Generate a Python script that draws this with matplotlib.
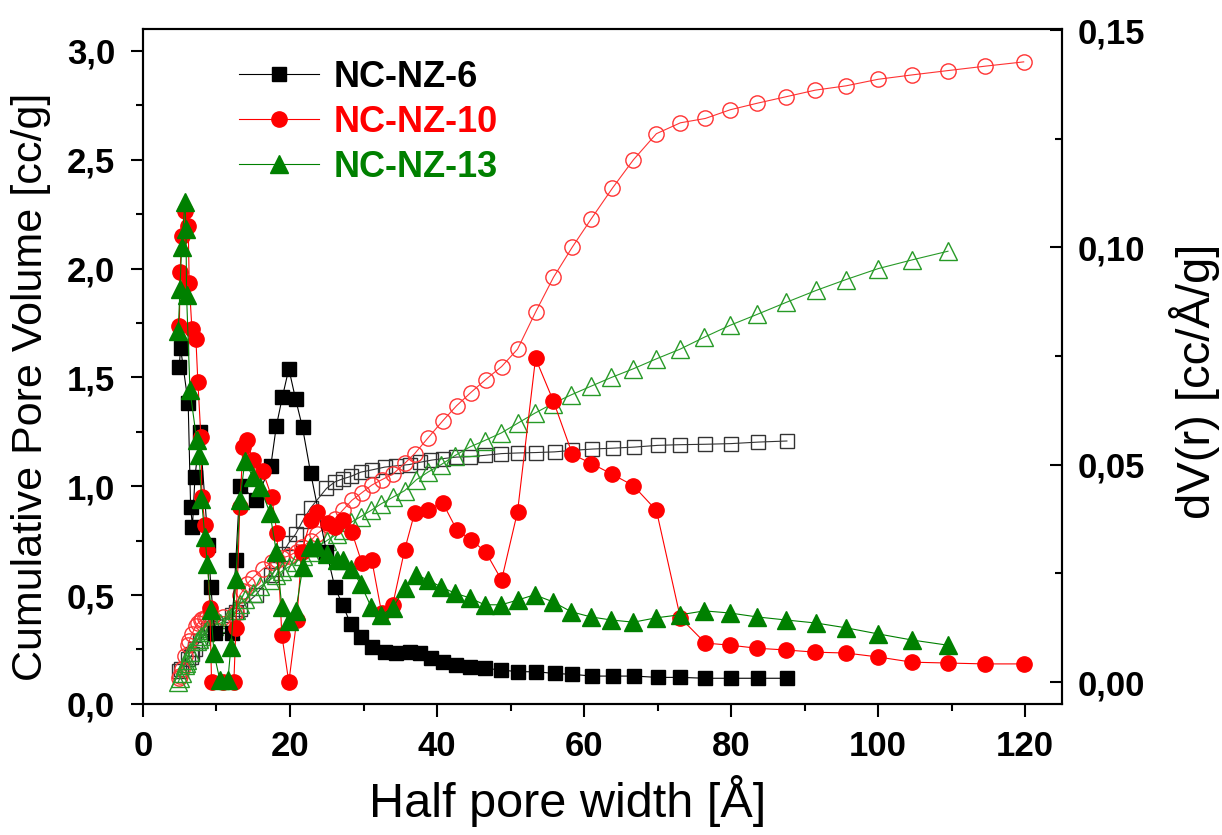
import matplotlib
matplotlib.use('Agg')
import matplotlib.pyplot as plt
from matplotlib.lines import Line2D
from matplotlib.ticker import MultipleLocator, FuncFormatter

plt.rcParams['font.family'] = ['Liberation Sans', 'DejaVu Sans']

# ---- NC-NZ-6 : half pore width [A], dV(r) [cc/A/g], cumulative volume [cc/g]
x6 = [4.93, 5.12, 6.15, 6.48, 6.73, 7.07, 7.74, 8.87, 9.24, 9.78,
      12.05, 12.64, 13.18, 15.35, 17.39, 18.14, 18.95, 19.84, 20.76, 21.70,
      22.80, 24.96, 26.09, 27.17, 28.26, 29.65, 31.11, 32.88, 34.47, 36.28,
      37.64, 39.23, 40.80, 42.62, 44.43, 46.47, 48.74, 50.99, 53.49, 55.98,
      58.42, 61.14, 63.90, 66.85, 70.01, 73.06, 76.49, 79.99, 83.70, 87.59]
dv6 = [0.0726, 0.0768, 0.0642, 0.0404, 0.0358, 0.0471, 0.0575, 0.0316, 0.0218, 0.0112,
       0.0112, 0.0282, 0.0452, 0.0420, 0.0498, 0.0589, 0.0655, 0.0721, 0.0651, 0.0586,
       0.0482, 0.0300, 0.0219, 0.0177, 0.0134, 0.0104, 0.0080, 0.0070, 0.0068, 0.0070,
       0.0066, 0.0055, 0.0047, 0.0039, 0.0035, 0.0032, 0.0028, 0.0024, 0.0024, 0.0020,
       0.0018, 0.0014, 0.0014, 0.0014, 0.0011, 0.0011, 0.0009, 0.0009, 0.0009, 0.0009]
cum6 = [0.15, 0.16, 0.205, 0.216, 0.23, 0.25, 0.29, 0.34, 0.35, 0.37,
        0.41, 0.42, 0.435, 0.50, 0.59, 0.62, 0.69, 0.74, 0.78, 0.84,
        0.90, 0.99, 1.02, 1.034, 1.045, 1.065, 1.075, 1.088, 1.094, 1.10,
        1.11, 1.12, 1.127, 1.134, 1.136, 1.142, 1.15, 1.153, 1.155, 1.158,
        1.165, 1.171, 1.175, 1.18, 1.188, 1.191, 1.193, 1.196, 1.203, 1.208]

# ---- NC-NZ-10
x10 = [4.95, 5.05, 5.26, 5.71, 6.15, 6.29, 6.66, 7.20, 7.47, 7.88,
       8.02, 8.42, 8.74, 9.10, 9.33, 10.87, 12.36, 12.64, 13.18, 13.59,
       14.13, 14.95, 16.30, 17.53, 18.21, 18.89, 19.84, 20.92, 21.60, 22.83,
       23.64, 25.14, 26.09, 27.17, 28.40, 29.76, 31.11, 32.47, 33.97, 35.60,
       36.96, 38.72, 40.76, 42.66, 44.57, 46.60, 48.78, 50.95, 53.40, 55.84,
       58.42, 61.00, 63.86, 66.71, 69.84, 73.10, 76.49, 79.89, 83.56, 87.50,
       91.44, 95.65, 100.0, 104.6, 109.5, 114.5, 119.8]
dv10 = [0.0819, 0.0944, 0.1027, 0.1085, 0.1050, 0.0919, 0.0812, 0.0789, 0.0690, 0.0565,
        0.0427, 0.0362, 0.0305, 0.0171, 0.0, 0.0, 0.0, 0.0125, 0.0404, 0.0540,
        0.0556, 0.0512, 0.0485, 0.0425, 0.0344, 0.0108, 0.0, 0.0143, 0.0300, 0.0374,
        0.0392, 0.0367, 0.0358, 0.0374, 0.0346, 0.0275, 0.0282, 0.0159, 0.0178, 0.0305,
        0.0390, 0.0397, 0.0413, 0.0351, 0.0328, 0.0300, 0.0235, 0.0392, 0.0745, 0.0646,
        0.0524, 0.0503, 0.0478, 0.0452, 0.0395, 0.0148, 0.0090, 0.0085, 0.0078, 0.0074,
        0.0069, 0.0067, 0.0058, 0.0046, 0.0044, 0.0042, 0.0042]
cum10 = [0.12, 0.13, 0.16, 0.22, 0.27, 0.29, 0.32, 0.36, 0.37, 0.385,
         0.39, 0.395, 0.40, 0.40, 0.40, 0.40, 0.41, 0.42, 0.50, 0.52,
         0.55, 0.58, 0.62, 0.65, 0.66, 0.67, 0.68, 0.70, 0.72, 0.75,
         0.78, 0.82, 0.85, 0.89, 0.935, 0.97, 1.005, 1.03, 1.055, 1.105,
         1.15, 1.22, 1.30, 1.37, 1.43, 1.49, 1.55, 1.63, 1.80, 1.96,
         2.10, 2.23, 2.37, 2.50, 2.62, 2.67, 2.69, 2.73, 2.76, 2.79,
         2.82, 2.84, 2.87, 2.89, 2.91, 2.93, 2.95]

# ---- NC-NZ-13
x13 = [4.80, 5.03, 5.26, 5.71, 5.85, 5.93, 6.39, 7.30, 7.65, 7.95,
       8.42, 8.76, 9.24, 9.65, 10.46, 11.55, 11.96, 12.64, 13.18, 13.86,
       14.99, 15.96, 17.26, 18.14, 18.89, 19.84, 20.79, 21.74, 22.69, 23.64,
       25.00, 26.36, 27.20, 28.36, 29.60, 31.07, 32.43, 34.01, 35.60, 37.19,
       38.76, 40.58, 42.39, 44.43, 46.47, 48.74, 50.99, 53.26, 55.75, 58.25,
       60.96, 63.72, 66.71, 69.80, 73.06, 76.36, 79.89, 83.56, 87.50, 91.58,
       95.65, 100.0, 104.6, 109.5]
dv13 = [0.0808, 0.0905, 0.1001, 0.1105, 0.1043, 0.0890, 0.0672, 0.0558, 0.0522, 0.0422,
        0.0335, 0.0272, 0.0166, 0.0067, 0.0005, 0.0005, 0.0081, 0.0238, 0.0418, 0.0508,
        0.0471, 0.0448, 0.0390, 0.0300, 0.0173, 0.0141, 0.0164, 0.0265, 0.0312, 0.0312,
        0.0295, 0.0282, 0.0282, 0.0261, 0.0226, 0.0172, 0.0155, 0.0171, 0.0217, 0.0247,
        0.0235, 0.0219, 0.0205, 0.0194, 0.0178, 0.0178, 0.0189, 0.0201, 0.0185, 0.0162,
        0.0150, 0.0143, 0.0138, 0.0148, 0.0155, 0.0164, 0.0159, 0.0150, 0.0143, 0.0136,
        0.0125, 0.0111, 0.0097, 0.0085]
cum13 = [0.10, 0.12, 0.14, 0.18, 0.19, 0.20, 0.24, 0.29, 0.30, 0.31,
         0.33, 0.34, 0.35, 0.36, 0.37, 0.39, 0.40, 0.43, 0.46, 0.48,
         0.51, 0.54, 0.57, 0.59, 0.61, 0.63, 0.65, 0.68, 0.70, 0.72,
         0.75, 0.78, 0.80, 0.835, 0.86, 0.89, 0.92, 0.95, 0.98, 1.03,
         1.065, 1.10, 1.14, 1.18, 1.21, 1.245, 1.29, 1.335, 1.38, 1.42,
         1.46, 1.50, 1.54, 1.585, 1.63, 1.685, 1.74, 1.79, 1.845, 1.90,
         1.95, 2.00, 2.04, 2.08]

labels = ['NC-NZ-6', 'NC-NZ-10', 'NC-NZ-13']
colors = ['black', '#ff0000', '#008000']

fig = plt.figure(figsize=(12.22, 8.35), dpi=100)
ax = fig.add_axes([0.117, 0.157, 0.752, 0.808])
ax2 = ax.twinx()

# cumulative pore volume (open symbols, left axis)
ax.plot(x6, cum6, color='#333333', lw=0.8, marker='s', ms=10.5, mfc='none', mew=1.0)
ax.plot(x10, cum10, color='#ff3333', lw=0.8, marker='o', ms=11, mfc='none', mew=1.0)
ax.plot(x13, cum13, color='#279a27', lw=0.8, marker='^', ms=12.5, mfc='none', mew=1.0)

# pore size distribution (filled symbols, right axis)
ax2.plot(x6, dv6, color='black', lw=0.8, marker='s', ms=9.5)
ax2.plot(x10, dv10, color='#ff0000', lw=0.8, marker='o', ms=11)
ax2.plot(x13, dv13, color='#008000', lw=0.8, marker='^', ms=12.5)

ax.set_xlim(0, 125)
ax.set_ylim(0, 3.1)
ax2.set_ylim(-0.005, 0.1502)

ax.xaxis.set_major_locator(MultipleLocator(20))
ax.xaxis.set_minor_locator(MultipleLocator(10))
ax.yaxis.set_major_locator(MultipleLocator(0.5))
ax.yaxis.set_minor_locator(MultipleLocator(0.25))
ax2.yaxis.set_major_locator(MultipleLocator(0.05))
ax2.yaxis.set_minor_locator(MultipleLocator(0.025))

ax.yaxis.set_major_formatter(FuncFormatter(lambda v, p: f'{v:.1f}'.replace('.', ',')))
ax2.yaxis.set_major_formatter(FuncFormatter(lambda v, p: f'{v:.2f}'.replace('.', ',')))

ax.tick_params(which='both', direction='out', width=1.5, top=False, right=False)
ax.tick_params(which='major', length=9, labelsize=25, pad=11)
ax.tick_params(which='minor', length=5)
ax.tick_params(axis='x', which='major', pad=10)
ax2.tick_params(which='both', direction='in', width=1.5)
ax2.tick_params(which='major', length=9, labelsize=25, pad=11)
ax2.tick_params(which='minor', length=5)
for a in (ax, ax2):
    for lab in a.get_xticklabels() + a.get_yticklabels():
        lab.set_fontweight('bold')
    for s in a.spines.values():
        s.set_linewidth(1.5)

ax.set_xlabel('Half pore width [Å]', fontsize=35)
ax.xaxis.set_label_coords(0.462, -0.105)
ax.set_ylabel('Cumulative Pore Volume [cc/g]', fontsize=31)
ax.yaxis.set_label_coords(-0.1, 0.47)
ax2.set_ylabel('dV(r) [cc/Å/g]', fontsize=34)
ax2.yaxis.set_label_coords(1.117, 0.478)

handles = [Line2D([], [], color='black', lw=0.8, marker='s', ms=9.5),
           Line2D([], [], color='#ff0000', lw=0.8, marker='o', ms=11),
           Line2D([], [], color='#008000', lw=0.8, marker='^', ms=12.5)]
leg = ax2.legend(handles, labels, loc='upper left', bbox_to_anchor=(0.105, 0.955),
                 frameon=False, handlelength=2.2, handletextpad=0.4,
                 labelspacing=0.28, borderpad=0, borderaxespad=0,
                 prop={'weight': 'bold', 'size': 26})
for t, c in zip(leg.get_texts(), colors):
    t.set_color(c)

fig.savefig('out.png', dpi=100)
